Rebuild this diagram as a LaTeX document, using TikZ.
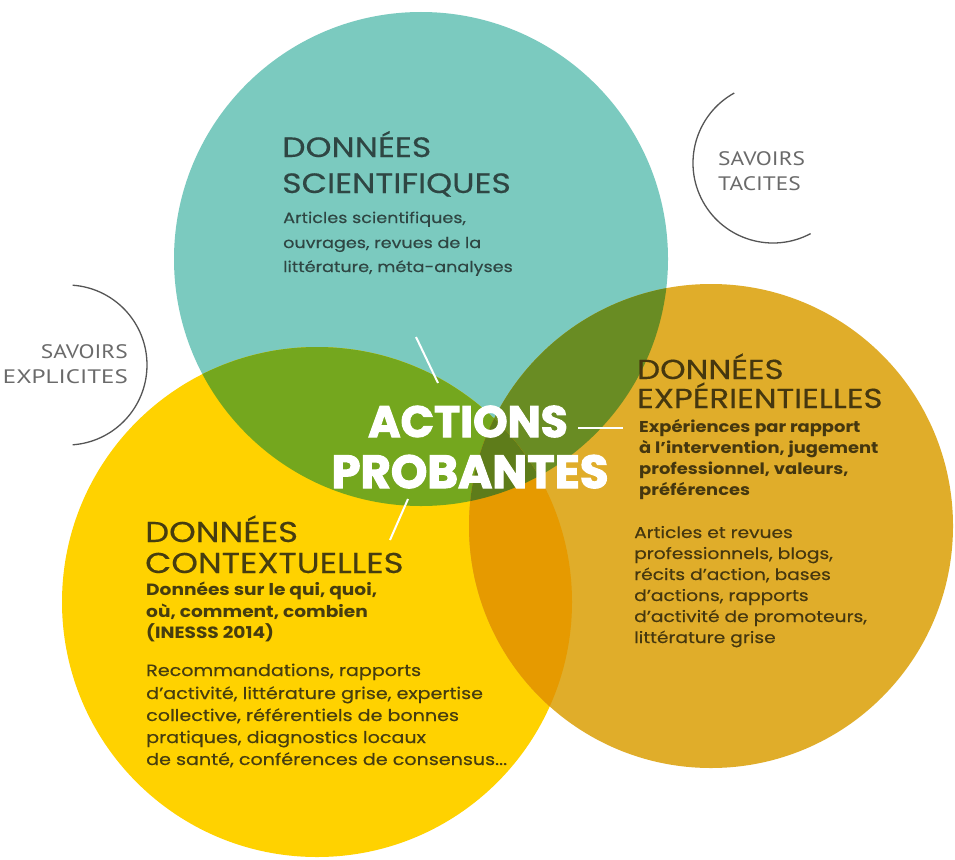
\documentclass[tikz,border=0pt]{standalone}
\usepackage{fontspec}
\setmainfont{Poppins}
\newfontfamily\gw[FakeStretch=1.18, FakeBold=0.35]{Poppins}
\newfontfamily\gwb[FakeStretch=1.14]{Poppins}
\newfontfamily\heavy[BoldFeatures={FakeBold=2.4}]{Poppins}
\newfontfamily\savfont[FakeStretch=1.2]{PT Sans}
\newfontfamily\savwide[FakeStretch=1.28]{PT Sans}
\definecolor{cteal}{HTML}{7BCABF}
\definecolor{cyel}{HTML}{FFD200}
\definecolor{cora}{HTML}{E0AD2A}
\definecolor{cgreen}{HTML}{74A71E}
\definecolor{colive}{HTML}{698C23}
\definecolor{cdkora}{HTML}{E69A00}
\definecolor{ctriple}{HTML}{5E7C1A}
\definecolor{tteal}{HTML}{2F4643}
\definecolor{tyel}{HTML}{463D10}
\definecolor{tora}{HTML}{45370F}
\definecolor{tgray}{HTML}{6A6A6A}
\definecolor{arcgray}{HTML}{555555}
\tikzset{
  line/.style={anchor=base west, inner sep=0pt},
  ttl/.style={line, font=\gw\fontsize{#1}{#1}\selectfont},
  body/.style={line, font=\gw\fontsize{#1}{#1}\selectfont},
  bodyb/.style={line, font=\gwb\fontsize{#1}{#1}\selectfont\bfseries},
  sav/.style={inner sep=0pt, text=tgray, font=\savfont\fontsize{19.5}{19.5}\selectfont},
  savw/.style={inner sep=0pt, text=tgray, font=\savwide\fontsize{19.5}{19.5}\selectfont},
  arcline/.style={draw=arcgray, line width=1.3pt},
  wline/.style={draw=white, line width=2pt},
  big/.style={anchor=base, inner sep=0pt, text=white, font=\heavy\fontsize{#1}{#1}\selectfont\bfseries}
}
\begin{document}
\begin{tikzpicture}[x=1pt, y=-1pt]
\useasboundingbox (0,0) rectangle (955,859);
\fill[white] (0,0) rectangle (955,859);
\coordinate (T) at (421,259);
\coordinate (Y) at (317,602);
\coordinate (O) at (711,526);
% circles
\fill[cteal] (T) circle (247pt);
\fill[cyel] (Y) circle (255pt);
\fill[cora] (O) circle (242pt);
\begin{scope}
  \clip (T) circle (247pt);
  \fill[cgreen] (Y) circle (255pt);
  \fill[colive] (O) circle (242pt);
\end{scope}
\begin{scope}
  \clip (Y) circle (255pt);
  \fill[cdkora] (O) circle (242pt);
\end{scope}
\begin{scope}
  \clip (T) circle (247pt);
  \clip (Y) circle (255pt);
  \fill[ctriple] (O) circle (242pt);
\end{scope}
% savoirs arcs
\coordinate (EC) at (67,365);
\coordinate (TC) at (773,163);
\draw[arcline] (EC) ++(86:80pt) arc[start angle=86, end angle=-86, radius=80pt];
\draw[arcline] (TC) ++(119:80pt) arc[start angle=119, end angle=298, radius=80pt];
\node[sav, anchor=base east] (expl1) at (128,358) {SAVOIRS};
\node[savw, anchor=base east] (expl2) at (128,383) {EXPLICITES};
\node[sav, anchor=base west] (tac1) at (718,165) {SAVOIRS};
\node[sav, anchor=base west] (tac2) at (718,190) {TACITES};
% scientifiques
\node[ttl=28, text=tteal] (sciT1) at (282,157) {DONNÉES};
\node[ttl=28, text=tteal] (sciT2) at (282,193) {SCIENTIFIQUES};
\node[body=14.9, text=tteal] (sci1) at (283,223) {Articles scientifiques,};
\node[body=14.9, text=tteal] (sci2) at (283,248) {ouvrages, revues de la};
\node[body=14.9, text=tteal] (sci3) at (283,272) {littérature, méta-analyses};
% contextuelles
\node[ttl=28.7, text=tyel] (conT1) at (145,542) {DONNÉES};
\node[ttl=28.7, text=tyel] (conT2) at (145,573) {CONTEXTUELLES};
\node[bodyb=16.3, text=tyel] (conB1) at (146,595) {Données sur le qui, quoi,};
\node[bodyb=16.3, text=tyel] (conB2) at (146,617) {où, comment, combien};
\node[bodyb=16.3, text=tyel] (conB3) at (146,638) {(INESSS 2014)};
\node[body=16.2, text=tyel] (con1) at (146,676) {Recommandations, rapports};
\node[body=16.2, text=tyel] (con2) at (146,699) {d’activité, littérature grise, expertise};
\node[body=16.2, text=tyel] (con3) at (146,721) {collective, référentiels de bonnes};
\node[body=16.2, text=tyel] (con4) at (146,743) {pratiques, diagnostics locaux};
\node[body=16.2, text=tyel] (con5) at (146,765) {de santé, conférences de consensus...};
% experientielles
\node[ttl=27.5, text=tora] (expT1) at (637,379) {DONNÉES};
\node[ttl=27.5, text=tora] (expT2) at (637,408) {EXPÉRIENTIELLES};
\node[bodyb=15.7, text=tora] (expB1) at (639,432) {Expériences par rapport};
\node[bodyb=15.7, text=tora] (expB2) at (639,453) {à l’intervention, jugement};
\node[bodyb=15.7, text=tora] (expB3) at (639,474) {professionnel, valeurs,};
\node[bodyb=15.7, text=tora] (expB4) at (639,495) {préférences};
\node[body=15.8, text=tora] (exp1) at (634,538) {Articles et revues};
\node[body=15.8, text=tora] (exp2) at (634,559) {professionnels, blogs,};
\node[body=15.8, text=tora] (exp3) at (634,580) {récits d’action, bases};
\node[body=15.8, text=tora] (exp4) at (634,601) {d’actions, rapports};
\node[body=15.8, text=tora] (exp5) at (634,622) {d’activité de promoteurs,};
\node[body=15.8, text=tora] (exp6) at (634,643) {littérature grise};
% centre
\node[big=44] (act) at (468,437) {ACTIONS};
\node[big=46.5] (prob) at (470,488) {PROBANTES};
\coordinate (l1a) at (416,337);
\coordinate (l1b) at (438,383);
\coordinate (l2a) at (578,428);
\coordinate (l2b) at (623,428);
\coordinate (l3a) at (408,499);
\coordinate (l3b) at (390,540);
\draw[wline] (l1a) -- (l1b);
\draw[wline] (l2a) -- (l2b);
\draw[wline] (l3a) -- (l3b);
\end{tikzpicture}
\end{document}
